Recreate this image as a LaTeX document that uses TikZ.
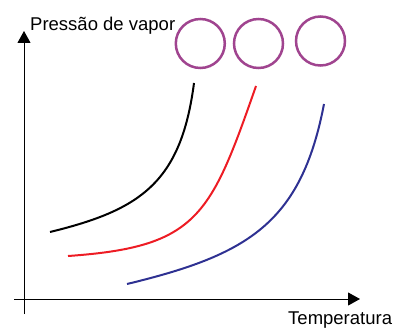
\documentclass[tikz,border=0pt]{standalone}
\usepackage{fontspec}
\setmainfont{Liberation Sans}
\usetikzlibrary{arrows.meta}
\definecolor{circpurple}{RGB}{160,68,143}
\definecolor{curvered}{RGB}{237,28,36}
\definecolor{curveblue}{RGB}{46,49,146}
\tikzset{
  axis/.style={line width=1pt, -{Triangle[length=12pt,width=13pt]}},
  ring/.style={circle, draw=circpurple, line width=2.5pt, minimum size=49pt, inner sep=0pt},
  curve/.style={line width=2pt},
  lbl/.style={font=\fontsize{18.5pt}{20pt}\selectfont, inner sep=0pt, anchor=base west}
}
\begin{document}
\begin{tikzpicture}[x=1pt,y=-1pt]
\useasboundingbox (0,0) rectangle (393,329);
% axes
\coordinate (ybot) at (24,314);
\coordinate (ytop) at (24,31);
\coordinate (xleft) at (14,299);
\coordinate (xright) at (360,299);
\draw[axis] (ybot) -- (ytop);
\draw[axis] (xleft) -- (xright);
% labels
\node[lbl] (ylab) at (30,31) {Pressão de vapor};
\node[lbl] (xlab) at (288,324) {Temperatura};
% circles
\node[ring] (c1) at (200.3,43.5) {};
\node[ring] (c2) at (258.5,43.5) {};
\node[ring] (c3) at (320.5,41) {};
% curves
\draw[curve, black] (50,232) .. controls (140,210) and (181,183) .. (194,83);
\draw[curve, curvered] (68,256) .. controls (198,247) and (210.5,216) .. (256,86);
\draw[curve, curveblue] (127,284) .. controls (247,255) and (301,224) .. (324,104);
\end{tikzpicture}
\end{document}
